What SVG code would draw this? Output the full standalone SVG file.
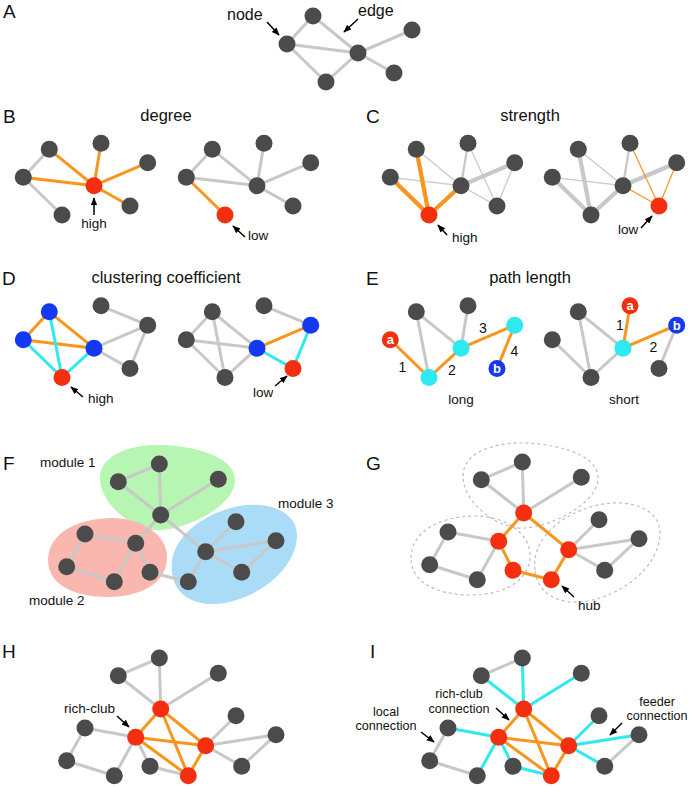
<svg xmlns="http://www.w3.org/2000/svg" xmlns:xlink="http://www.w3.org/1999/xlink" width="693" height="786" viewBox="0 0 693 786">
<style>
.n{fill:#4b4b4b}.rd{fill:#f42f10}.cy{fill:#2ee9f0}.bl{fill:#1439f0}
line.g{stroke:#c8c8c8;stroke-width:3}line.o{stroke:#f7951d;stroke-width:3}line.c{stroke:#2ee9f0;stroke-width:3}
line.t1{stroke-width:1.2}line.t2{stroke-width:2.3}line.t4{stroke-width:4.2}
text{font-family:"Liberation Sans",Arial,Helvetica,sans-serif;fill:#111}
.pl{font-size:19px}.ti{font-size:16.5px}.lb{font-size:13.5px}.l2{font-size:12.6px}.nm{font-size:14px;text-anchor:middle}
.lt{font-size:13px;font-weight:bold;fill:#fff;text-anchor:middle}
.mid{text-anchor:middle}
.ar{stroke:#000;stroke-width:1.5;fill:none;marker-end:url(#ah)}
.dash{fill:none;stroke:#bdbdbd;stroke-width:1.2;stroke-dasharray:3 3}
</style>
<defs>
<marker id="ah" viewBox="0 0 10 10" refX="9" refY="5" markerWidth="8" markerHeight="8" orient="auto" markerUnits="userSpaceOnUse"><path d="M0,1 L10,5 L0,9 z" fill="#000"/></marker>
<path id="blob1" d="M100,478 C100,455 130,445 157,445 C190,445 235,455 235,480 C235,505 190,528 162,530 C135,532 100,505 100,478 Z"/>
<path id="blob2" d="M48,560 C48,532 80,518 112,518 C142,518 167,535 167,557 C167,585 138,597 108,597 C75,597 48,585 48,560 Z"/>
<path id="blob3" d="M172,572 C168,540 200,515 235,507 C265,500 297,510 297,535 C297,565 265,595 225,603 C195,608 174,595 172,572 Z"/>
</defs>
<rect width="693" height="786" fill="#fff"/>

<g id="modules">
<use xlink:href="#blob1" fill="#b6f5b2"/>
<use xlink:href="#blob2" fill="#f9b7b0"/>
<use xlink:href="#blob3" fill="#aadcf7"/>
<use xlink:href="#blob1" class="dash" transform="translate(363,-2)"/>
<use xlink:href="#blob2" class="dash" transform="translate(363,-2)"/>
<use xlink:href="#blob3" class="dash" transform="translate(363,-2)"/>
</g>

<g id="connectors">
<g id="A-edges">
<line x1="313" y1="16" x2="287" y2="44" class="g"/>
<line x1="313" y1="16" x2="358" y2="53" class="g"/>
<line x1="287" y1="44" x2="358" y2="53" class="g"/>
<line x1="287" y1="44" x2="326" y2="82" class="g"/>
<line x1="326" y1="82" x2="358" y2="53" class="g"/>
<line x1="358" y1="53" x2="412" y2="30" class="g"/>
<line x1="358" y1="53" x2="394" y2="73" class="g"/>
</g>
<g id="B1-edges">
<line x1="49.3" y1="149.3" x2="23.3" y2="177.3" class="g"/>
<line x1="23.3" y1="177.3" x2="62" y2="215" class="g"/>
<line x1="49.3" y1="149.3" x2="94" y2="185.7" class="o"/>
<line x1="101" y1="143.3" x2="94" y2="185.7" class="o"/>
<line x1="147.7" y1="162.7" x2="94" y2="185.7" class="o"/>
<line x1="23.3" y1="177.3" x2="94" y2="185.7" class="o"/>
<line x1="130" y1="206" x2="94" y2="185.7" class="o"/>
</g>
<g id="B2-edges" transform="translate(163,0)">
<line x1="49.3" y1="149.3" x2="23.3" y2="177.3" class="g"/>
<line x1="49.3" y1="149.3" x2="94" y2="185.7" class="g"/>
<line x1="101" y1="143.3" x2="94" y2="185.7" class="g"/>
<line x1="147.7" y1="162.7" x2="94" y2="185.7" class="g"/>
<line x1="23.3" y1="177.3" x2="94" y2="185.7" class="g"/>
<line x1="94" y1="185.7" x2="130" y2="206" class="g"/>
<line x1="23.3" y1="177.3" x2="62" y2="215" class="o"/>
</g>
<g id="C1-edges" transform="translate(367,0)">
<line x1="49.3" y1="149.3" x2="94" y2="185.7" class="g t1"/>
<line x1="23.3" y1="177.3" x2="94" y2="185.7" class="g t1"/>
<line x1="101" y1="143.3" x2="130" y2="206" class="g t1"/>
<line x1="147.7" y1="162.7" x2="130" y2="206" class="g t1"/>
<line x1="94" y1="185.7" x2="130" y2="206" class="g t1"/>
<line x1="101" y1="143.3" x2="94" y2="185.7" class="g t2"/>
<line x1="147.7" y1="162.7" x2="94" y2="185.7" class="g t4"/>
<line x1="49.3" y1="149.3" x2="62" y2="215" class="o t4"/>
<line x1="23.3" y1="177.3" x2="62" y2="215" class="o t4"/>
<line x1="94" y1="185.7" x2="62" y2="215" class="o t4"/>
</g>
<g id="C2-edges" transform="translate(529,0)">
<line x1="49.3" y1="149.3" x2="94" y2="185.7" class="g t1"/>
<line x1="23.3" y1="177.3" x2="94" y2="185.7" class="g t1"/>
<line x1="101" y1="143.3" x2="94" y2="185.7" class="g t2"/>
<line x1="49.3" y1="149.3" x2="62" y2="215" class="g t4"/>
<line x1="23.3" y1="177.3" x2="62" y2="215" class="g t4"/>
<line x1="147.7" y1="162.7" x2="94" y2="185.7" class="g t4"/>
<line x1="94" y1="185.7" x2="62" y2="215" class="g t4"/>
<line x1="101" y1="143.3" x2="130" y2="206" class="o t1"/>
<line x1="147.7" y1="162.7" x2="130" y2="206" class="o t1"/>
<line x1="94" y1="185.7" x2="130" y2="206" class="o t1"/>
</g>
<g id="D1-edges" transform="translate(0,162.5)">
<line x1="101" y1="143.3" x2="147.7" y2="162.7" class="g"/>
<line x1="147.7" y1="162.7" x2="94" y2="185.7" class="g"/>
<line x1="147.7" y1="162.7" x2="130" y2="206" class="g"/>
<line x1="94" y1="185.7" x2="130" y2="206" class="g"/>
<line x1="49.3" y1="149.3" x2="23.3" y2="177.3" class="o"/>
<line x1="49.3" y1="149.3" x2="94" y2="185.7" class="o"/>
<line x1="23.3" y1="177.3" x2="94" y2="185.7" class="o"/>
<line x1="49.3" y1="149.3" x2="62" y2="215" class="c"/>
<line x1="23.3" y1="177.3" x2="62" y2="215" class="c"/>
<line x1="94" y1="185.7" x2="62" y2="215" class="c"/>
</g>
<g id="D2-edges" transform="translate(163,162.5)">
<line x1="49.3" y1="149.3" x2="23.3" y2="177.3" class="g"/>
<line x1="49.3" y1="149.3" x2="94" y2="185.7" class="g"/>
<line x1="49.3" y1="149.3" x2="62" y2="215" class="g"/>
<line x1="23.3" y1="177.3" x2="94" y2="185.7" class="g"/>
<line x1="23.3" y1="177.3" x2="62" y2="215" class="g"/>
<line x1="94" y1="185.7" x2="62" y2="215" class="g"/>
<line x1="101" y1="143.3" x2="147.7" y2="162.7" class="g"/>
<line x1="94" y1="185.7" x2="147.7" y2="162.7" class="o"/>
<line x1="94" y1="185.7" x2="130" y2="206" class="c"/>
<line x1="147.7" y1="162.7" x2="130" y2="206" class="c"/>
</g>
<g id="E1-edges" transform="translate(367,162.5)">
<line x1="49.3" y1="149.3" x2="62" y2="215" class="g"/>
<line x1="49.3" y1="149.3" x2="94" y2="185.7" class="g"/>
<line x1="101" y1="143.3" x2="94" y2="185.7" class="g"/>
<line x1="23.3" y1="177.3" x2="62" y2="215" class="o"/>
<line x1="62" y1="215" x2="94" y2="185.7" class="o"/>
<line x1="94" y1="185.7" x2="147.7" y2="162.7" class="o"/>
<line x1="147.7" y1="162.7" x2="130" y2="206" class="o"/>
</g>
<g id="E2-edges" transform="translate(529,162.5)">
<line x1="49.3" y1="149.3" x2="94" y2="185.7" class="g"/>
<line x1="49.3" y1="149.3" x2="62" y2="215" class="g"/>
<line x1="23.3" y1="177.3" x2="62" y2="215" class="g"/>
<line x1="62" y1="215" x2="94" y2="185.7" class="g"/>
<line x1="147.7" y1="162.7" x2="130" y2="206" class="g"/>
<line x1="101" y1="143.3" x2="94" y2="185.7" class="o"/>
<line x1="94" y1="185.7" x2="147.7" y2="162.7" class="o"/>
</g>
<g id="F-edges">
<line x1="159.3" y1="464" x2="118.3" y2="481.7" class="g"/>
<line x1="159.3" y1="464" x2="160.7" y2="515" class="g"/>
<line x1="118.3" y1="481.7" x2="160.7" y2="515" class="g"/>
<line x1="218.3" y1="479.3" x2="160.7" y2="515" class="g"/>
<line x1="160.7" y1="515" x2="135.7" y2="543.3" class="g"/>
<line x1="160.7" y1="515" x2="205.7" y2="551.7" class="g"/>
<line x1="85" y1="534" x2="135.7" y2="543.3" class="g"/>
<line x1="85" y1="534" x2="66.7" y2="566.7" class="g"/>
<line x1="66.7" y1="566.7" x2="114.3" y2="581.7" class="g"/>
<line x1="135.7" y1="543.3" x2="114.3" y2="581.7" class="g"/>
<line x1="135.7" y1="543.3" x2="150" y2="572.3" class="g"/>
<line x1="150" y1="572.3" x2="188.3" y2="581.7" class="g"/>
<line x1="188.3" y1="581.7" x2="205.7" y2="551.7" class="g"/>
<line x1="205.7" y1="551.7" x2="236" y2="521.7" class="g"/>
<line x1="205.7" y1="551.7" x2="276" y2="540.7" class="g"/>
<line x1="205.7" y1="551.7" x2="241.7" y2="572.3" class="g"/>
<line x1="241.7" y1="572.3" x2="276" y2="540.7" class="g"/>
</g>
<g id="G-edges" transform="translate(363,-2)">
<line x1="159.3" y1="464" x2="118.3" y2="481.7" class="g"/>
<line x1="159.3" y1="464" x2="160.7" y2="515" class="g"/>
<line x1="118.3" y1="481.7" x2="160.7" y2="515" class="g"/>
<line x1="218.3" y1="479.3" x2="160.7" y2="515" class="g"/>
<line x1="85" y1="534" x2="135.7" y2="543.3" class="g"/>
<line x1="85" y1="534" x2="66.7" y2="566.7" class="g"/>
<line x1="66.7" y1="566.7" x2="114.3" y2="581.7" class="g"/>
<line x1="135.7" y1="543.3" x2="114.3" y2="581.7" class="g"/>
<line x1="205.7" y1="551.7" x2="236" y2="521.7" class="g"/>
<line x1="205.7" y1="551.7" x2="276" y2="540.7" class="g"/>
<line x1="205.7" y1="551.7" x2="241.7" y2="572.3" class="g"/>
<line x1="241.7" y1="572.3" x2="276" y2="540.7" class="g"/>
<line x1="160.7" y1="515" x2="135.7" y2="543.3" class="o"/>
<line x1="160.7" y1="515" x2="205.7" y2="551.7" class="o"/>
<line x1="135.7" y1="543.3" x2="150" y2="572.3" class="o"/>
<line x1="150" y1="572.3" x2="188.3" y2="581.7" class="o"/>
<line x1="188.3" y1="581.7" x2="205.7" y2="551.7" class="o"/>
</g>
<g id="H-edges" transform="translate(0,194)">
<line x1="159.3" y1="464" x2="118.3" y2="481.7" class="g"/>
<line x1="159.3" y1="464" x2="160.7" y2="515" class="g"/>
<line x1="118.3" y1="481.7" x2="160.7" y2="515" class="g"/>
<line x1="218.3" y1="479.3" x2="160.7" y2="515" class="g"/>
<line x1="85" y1="534" x2="135.7" y2="543.3" class="g"/>
<line x1="85" y1="534" x2="66.7" y2="566.7" class="g"/>
<line x1="66.7" y1="566.7" x2="114.3" y2="581.7" class="g"/>
<line x1="135.7" y1="543.3" x2="114.3" y2="581.7" class="g"/>
<line x1="135.7" y1="543.3" x2="150" y2="572.3" class="g"/>
<line x1="150" y1="572.3" x2="188.3" y2="581.7" class="g"/>
<line x1="205.7" y1="551.7" x2="236" y2="521.7" class="g"/>
<line x1="205.7" y1="551.7" x2="276" y2="540.7" class="g"/>
<line x1="205.7" y1="551.7" x2="241.7" y2="572.3" class="g"/>
<line x1="241.7" y1="572.3" x2="276" y2="540.7" class="g"/>
<line x1="160.7" y1="515" x2="135.7" y2="543.3" class="o"/>
<line x1="160.7" y1="515" x2="205.7" y2="551.7" class="o"/>
<line x1="160.7" y1="515" x2="188.3" y2="581.7" class="o"/>
<line x1="135.7" y1="543.3" x2="205.7" y2="551.7" class="o"/>
<line x1="135.7" y1="543.3" x2="188.3" y2="581.7" class="o"/>
<line x1="188.3" y1="581.7" x2="205.7" y2="551.7" class="o"/>
</g>
<g id="I-edges" transform="translate(363,194)">
<line x1="159.3" y1="464" x2="118.3" y2="481.7" class="g"/>
<line x1="85" y1="534" x2="66.7" y2="566.7" class="g"/>
<line x1="66.7" y1="566.7" x2="114.3" y2="581.7" class="g"/>
<line x1="241.7" y1="572.3" x2="276" y2="540.7" class="g"/>
<line x1="159.3" y1="464" x2="160.7" y2="515" class="c"/>
<line x1="118.3" y1="481.7" x2="160.7" y2="515" class="c"/>
<line x1="218.3" y1="479.3" x2="160.7" y2="515" class="c"/>
<line x1="85" y1="534" x2="135.7" y2="543.3" class="c"/>
<line x1="135.7" y1="543.3" x2="114.3" y2="581.7" class="c"/>
<line x1="135.7" y1="543.3" x2="150" y2="572.3" class="c"/>
<line x1="150" y1="572.3" x2="188.3" y2="581.7" class="c"/>
<line x1="205.7" y1="551.7" x2="236" y2="521.7" class="c"/>
<line x1="205.7" y1="551.7" x2="276" y2="540.7" class="c"/>
<line x1="205.7" y1="551.7" x2="241.7" y2="572.3" class="c"/>
<line x1="160.7" y1="515" x2="135.7" y2="543.3" class="o"/>
<line x1="160.7" y1="515" x2="205.7" y2="551.7" class="o"/>
<line x1="160.7" y1="515" x2="188.3" y2="581.7" class="o"/>
<line x1="135.7" y1="543.3" x2="205.7" y2="551.7" class="o"/>
<line x1="135.7" y1="543.3" x2="188.3" y2="581.7" class="o"/>
<line x1="188.3" y1="581.7" x2="205.7" y2="551.7" class="o"/>
</g>
</g>

<g id="nodes">
<g id="A">
<g id="A-n1"><circle cx="313" cy="16" r="8.5" class="n"/></g>
<g id="A-n2"><circle cx="287" cy="44" r="8.5" class="n"/></g>
<g id="A-n3"><circle cx="358" cy="53" r="8.5" class="n"/></g>
<g id="A-n4"><circle cx="412" cy="30" r="8.5" class="n"/></g>
<g id="A-n5"><circle cx="394" cy="73" r="8.5" class="n"/></g>
<g id="A-n6"><circle cx="326" cy="82" r="8.5" class="n"/></g>
</g>
<g id="B1">
<g id="B1-n1"><circle cx="49.3" cy="149.3" r="8.5" class="n"/></g>
<g id="B1-n2"><circle cx="101" cy="143.3" r="8.5" class="n"/></g>
<g id="B1-n3"><circle cx="147.7" cy="162.7" r="8.5" class="n"/></g>
<g id="B1-n4"><circle cx="23.3" cy="177.3" r="8.5" class="n"/></g>
<g id="B1-n5"><circle cx="94" cy="185.7" r="8.5" class="rd"/></g>
<g id="B1-n6"><circle cx="130" cy="206" r="8.5" class="n"/></g>
<g id="B1-n7"><circle cx="62" cy="215" r="8.5" class="n"/></g>
</g>
<g id="B2" transform="translate(163,0)">
<g id="B2-n1"><circle cx="49.3" cy="149.3" r="8.5" class="n"/></g>
<g id="B2-n2"><circle cx="101" cy="143.3" r="8.5" class="n"/></g>
<g id="B2-n3"><circle cx="147.7" cy="162.7" r="8.5" class="n"/></g>
<g id="B2-n4"><circle cx="23.3" cy="177.3" r="8.5" class="n"/></g>
<g id="B2-n5"><circle cx="94" cy="185.7" r="8.5" class="n"/></g>
<g id="B2-n6"><circle cx="130" cy="206" r="8.5" class="n"/></g>
<g id="B2-n7"><circle cx="62" cy="215" r="8.5" class="rd"/></g>
</g>
<g id="C1" transform="translate(367,0)">
<g id="C1-n1"><circle cx="49.3" cy="149.3" r="8.5" class="n"/></g>
<g id="C1-n2"><circle cx="101" cy="143.3" r="8.5" class="n"/></g>
<g id="C1-n3"><circle cx="147.7" cy="162.7" r="8.5" class="n"/></g>
<g id="C1-n4"><circle cx="23.3" cy="177.3" r="8.5" class="n"/></g>
<g id="C1-n5"><circle cx="94" cy="185.7" r="8.5" class="n"/></g>
<g id="C1-n6"><circle cx="130" cy="206" r="8.5" class="n"/></g>
<g id="C1-n7"><circle cx="62" cy="215" r="8.5" class="rd"/></g>
</g>
<g id="C2" transform="translate(529,0)">
<g id="C2-n1"><circle cx="49.3" cy="149.3" r="8.5" class="n"/></g>
<g id="C2-n2"><circle cx="101" cy="143.3" r="8.5" class="n"/></g>
<g id="C2-n3"><circle cx="147.7" cy="162.7" r="8.5" class="n"/></g>
<g id="C2-n4"><circle cx="23.3" cy="177.3" r="8.5" class="n"/></g>
<g id="C2-n5"><circle cx="94" cy="185.7" r="8.5" class="n"/></g>
<g id="C2-n6"><circle cx="130" cy="206" r="8.5" class="rd"/></g>
<g id="C2-n7"><circle cx="62" cy="215" r="8.5" class="n"/></g>
</g>
<g id="D1" transform="translate(0,162.5)">
<g id="D1-n1"><circle cx="49.3" cy="149.3" r="8.5" class="bl"/></g>
<g id="D1-n2"><circle cx="101" cy="143.3" r="8.5" class="n"/></g>
<g id="D1-n3"><circle cx="147.7" cy="162.7" r="8.5" class="n"/></g>
<g id="D1-n4"><circle cx="23.3" cy="177.3" r="8.5" class="bl"/></g>
<g id="D1-n5"><circle cx="94" cy="185.7" r="8.5" class="bl"/></g>
<g id="D1-n6"><circle cx="130" cy="206" r="8.5" class="n"/></g>
<g id="D1-n7"><circle cx="62" cy="215" r="8.5" class="rd"/></g>
</g>
<g id="D2" transform="translate(163,162.5)">
<g id="D2-n1"><circle cx="49.3" cy="149.3" r="8.5" class="n"/></g>
<g id="D2-n2"><circle cx="101" cy="143.3" r="8.5" class="n"/></g>
<g id="D2-n3"><circle cx="147.7" cy="162.7" r="8.5" class="bl"/></g>
<g id="D2-n4"><circle cx="23.3" cy="177.3" r="8.5" class="n"/></g>
<g id="D2-n5"><circle cx="94" cy="185.7" r="8.5" class="bl"/></g>
<g id="D2-n6"><circle cx="130" cy="206" r="8.5" class="rd"/></g>
<g id="D2-n7"><circle cx="62" cy="215" r="8.5" class="n"/></g>
</g>
<g id="E1" transform="translate(367,162.5)">
<g id="E1-n1"><circle cx="49.3" cy="149.3" r="8.5" class="n"/></g>
<g id="E1-n2"><circle cx="101" cy="143.3" r="8.5" class="n"/></g>
<g id="E1-n3"><circle cx="147.7" cy="162.7" r="8.5" class="cy"/></g>
<g id="E1-a"><circle cx="23.3" cy="177.3" r="8.5" class="rd"/><text x="23.3" y="181.8" class="lt">a</text></g>
<g id="E1-n5"><circle cx="94" cy="185.7" r="8.5" class="cy"/></g>
<g id="E1-b"><circle cx="130" cy="206" r="8.5" class="bl"/><text x="130" y="210.5" class="lt">b</text></g>
<g id="E1-n7"><circle cx="62" cy="215" r="8.5" class="cy"/></g>
</g>
<g id="E2" transform="translate(529,162.5)">
<g id="E2-n1"><circle cx="49.3" cy="149.3" r="8.5" class="n"/></g>
<g id="E2-a"><circle cx="101" cy="143.3" r="8.5" class="rd"/><text x="101" y="147.8" class="lt">a</text></g>
<g id="E2-b"><circle cx="147.7" cy="162.7" r="8.5" class="bl"/><text x="147.7" y="167.2" class="lt">b</text></g>
<g id="E2-n4"><circle cx="23.3" cy="177.3" r="8.5" class="n"/></g>
<g id="E2-n5"><circle cx="94" cy="185.7" r="8.5" class="cy"/></g>
<g id="E2-n6"><circle cx="130" cy="206" r="8.5" class="n"/></g>
<g id="E2-n7"><circle cx="62" cy="215" r="8.5" class="n"/></g>
</g>
<g id="F">
<g id="F-n1"><circle cx="159.3" cy="464" r="8.5" class="n"/></g>
<g id="F-n2"><circle cx="118.3" cy="481.7" r="8.5" class="n"/></g>
<g id="F-n3"><circle cx="218.3" cy="479.3" r="8.5" class="n"/></g>
<g id="F-n4"><circle cx="160.7" cy="515" r="8.5" class="n"/></g>
<g id="F-n5"><circle cx="85" cy="534" r="8.5" class="n"/></g>
<g id="F-n6"><circle cx="135.7" cy="543.3" r="8.5" class="n"/></g>
<g id="F-n7"><circle cx="66.7" cy="566.7" r="8.5" class="n"/></g>
<g id="F-n8"><circle cx="114.3" cy="581.7" r="8.5" class="n"/></g>
<g id="F-n9"><circle cx="150" cy="572.3" r="8.5" class="n"/></g>
<g id="F-n10"><circle cx="236" cy="521.7" r="8.5" class="n"/></g>
<g id="F-n11"><circle cx="276" cy="540.7" r="8.5" class="n"/></g>
<g id="F-n12"><circle cx="205.7" cy="551.7" r="8.5" class="n"/></g>
<g id="F-n13"><circle cx="241.7" cy="572.3" r="8.5" class="n"/></g>
<g id="F-n14"><circle cx="188.3" cy="581.7" r="8.5" class="n"/></g>
</g>
<g id="G" transform="translate(363,-2)">
<g id="G-n1"><circle cx="159.3" cy="464" r="8.5" class="n"/></g>
<g id="G-n2"><circle cx="118.3" cy="481.7" r="8.5" class="n"/></g>
<g id="G-n3"><circle cx="218.3" cy="479.3" r="8.5" class="n"/></g>
<g id="G-n4"><circle cx="160.7" cy="515" r="8.5" class="rd"/></g>
<g id="G-n5"><circle cx="85" cy="534" r="8.5" class="n"/></g>
<g id="G-n6"><circle cx="135.7" cy="543.3" r="8.5" class="rd"/></g>
<g id="G-n7"><circle cx="66.7" cy="566.7" r="8.5" class="n"/></g>
<g id="G-n8"><circle cx="114.3" cy="581.7" r="8.5" class="n"/></g>
<g id="G-n9"><circle cx="150" cy="572.3" r="8.5" class="rd"/></g>
<g id="G-n10"><circle cx="236" cy="521.7" r="8.5" class="n"/></g>
<g id="G-n11"><circle cx="276" cy="540.7" r="8.5" class="n"/></g>
<g id="G-n12"><circle cx="205.7" cy="551.7" r="8.5" class="rd"/></g>
<g id="G-n13"><circle cx="241.7" cy="572.3" r="8.5" class="n"/></g>
<g id="G-n14"><circle cx="188.3" cy="581.7" r="8.5" class="rd"/></g>
</g>
<g id="H" transform="translate(0,194)">
<g id="H-n1"><circle cx="159.3" cy="464" r="8.5" class="n"/></g>
<g id="H-n2"><circle cx="118.3" cy="481.7" r="8.5" class="n"/></g>
<g id="H-n3"><circle cx="218.3" cy="479.3" r="8.5" class="n"/></g>
<g id="H-n4"><circle cx="160.7" cy="515" r="8.5" class="rd"/></g>
<g id="H-n5"><circle cx="85" cy="534" r="8.5" class="n"/></g>
<g id="H-n6"><circle cx="135.7" cy="543.3" r="8.5" class="rd"/></g>
<g id="H-n7"><circle cx="66.7" cy="566.7" r="8.5" class="n"/></g>
<g id="H-n8"><circle cx="114.3" cy="581.7" r="8.5" class="n"/></g>
<g id="H-n9"><circle cx="150" cy="572.3" r="8.5" class="n"/></g>
<g id="H-n10"><circle cx="236" cy="521.7" r="8.5" class="n"/></g>
<g id="H-n11"><circle cx="276" cy="540.7" r="8.5" class="n"/></g>
<g id="H-n12"><circle cx="205.7" cy="551.7" r="8.5" class="rd"/></g>
<g id="H-n13"><circle cx="241.7" cy="572.3" r="8.5" class="n"/></g>
<g id="H-n14"><circle cx="188.3" cy="581.7" r="8.5" class="rd"/></g>
</g>
<g id="I" transform="translate(363,194)">
<g id="I-n1"><circle cx="159.3" cy="464" r="8.5" class="n"/></g>
<g id="I-n2"><circle cx="118.3" cy="481.7" r="8.5" class="n"/></g>
<g id="I-n3"><circle cx="218.3" cy="479.3" r="8.5" class="n"/></g>
<g id="I-n4"><circle cx="160.7" cy="515" r="8.5" class="rd"/></g>
<g id="I-n5"><circle cx="85" cy="534" r="8.5" class="n"/></g>
<g id="I-n6"><circle cx="135.7" cy="543.3" r="8.5" class="rd"/></g>
<g id="I-n7"><circle cx="66.7" cy="566.7" r="8.5" class="n"/></g>
<g id="I-n8"><circle cx="114.3" cy="581.7" r="8.5" class="n"/></g>
<g id="I-n9"><circle cx="150" cy="572.3" r="8.5" class="n"/></g>
<g id="I-n10"><circle cx="236" cy="521.7" r="8.5" class="n"/></g>
<g id="I-n11"><circle cx="276" cy="540.7" r="8.5" class="n"/></g>
<g id="I-n12"><circle cx="205.7" cy="551.7" r="8.5" class="rd"/></g>
<g id="I-n13"><circle cx="241.7" cy="572.3" r="8.5" class="n"/></g>
<g id="I-n14"><circle cx="188.3" cy="581.7" r="8.5" class="rd"/></g>
</g>
</g>

<g id="labels">
<text x="3" y="18" class="pl">A</text>
<text x="227" y="20" class="ti" style="font-size:16px">node</text>
<text x="358" y="16" class="ti" style="font-size:16px">edge</text>
<line x1="267" y1="22" x2="279" y2="35" class="ar"/>
<line x1="358" y1="19" x2="344" y2="32" class="ar"/>

<text x="3" y="123" class="pl">B</text>
<text x="166" y="121" class="ti mid">degree</text>
<text x="94" y="228" class="lb mid">high</text>
<line x1="94" y1="215" x2="94" y2="198" class="ar"/>
<text x="248" y="240" class="lb">low</text>
<line x1="245" y1="237" x2="233" y2="226" class="ar"/>

<text x="366" y="123" class="pl">C</text>
<text x="530" y="121" class="ti mid">strength</text>
<text x="452" y="242" class="lb">high</text>
<line x1="447" y1="235" x2="438" y2="225" class="ar"/>
<text x="618" y="234" class="lb">low</text>
<line x1="641" y1="228" x2="652" y2="216" class="ar"/>

<text x="2" y="285" class="pl">D</text>
<text x="166" y="283" class="ti mid">clustering coefficient</text>
<text x="88" y="403" class="lb">high</text>
<line x1="83" y1="397" x2="71" y2="387" class="ar"/>
<text x="253" y="397" class="lb">low</text>
<line x1="275" y1="386" x2="287" y2="376" class="ar"/>

<text x="366" y="285" class="pl">E</text>
<text x="530" y="283" class="ti mid">path length</text>
<text x="402.5" y="372" class="nm">1</text>
<text x="452" y="375" class="nm">2</text>
<text x="483" y="333" class="nm">3</text>
<text x="514.5" y="356" class="nm">4</text>
<text x="620" y="330" class="nm">1</text>
<text x="653.5" y="352" class="nm">2</text>
<text x="461" y="404" class="lb mid">long</text>
<text x="624" y="404" class="lb mid">short</text>

<text x="3" y="470" class="pl">F</text>
<text x="40" y="467" class="lb">module 1</text>
<text x="278" y="508" class="lb">module 3</text>
<text x="29" y="605" class="lb">module 2</text>

<text x="366" y="470" class="pl">G</text>
<text x="578" y="610" class="lb">hub</text>
<line x1="574" y1="597" x2="562" y2="586" class="ar"/>

<text x="2" y="658" class="pl">H</text>
<text x="64" y="713" class="lb">rich-club</text>
<line x1="117" y1="716" x2="129" y2="727" class="ar"/>

<text x="370" y="658" class="pl">I</text>
<text x="459" y="698" class="l2 mid">rich-club</text>
<text x="459" y="712.5" class="l2 mid">connection</text>
<line x1="496" y1="708" x2="509" y2="720" class="ar"/>
<text x="386" y="715.5" class="l2 mid">local</text>
<text x="386" y="730" class="l2 mid">connection</text>
<line x1="421" y1="732" x2="434" y2="742" class="ar"/>
<text x="657" y="705.5" class="l2 mid">feeder</text>
<text x="657" y="720" class="l2 mid">connection</text>
<line x1="622" y1="723" x2="610" y2="735" class="ar"/>
</g>
</svg>
